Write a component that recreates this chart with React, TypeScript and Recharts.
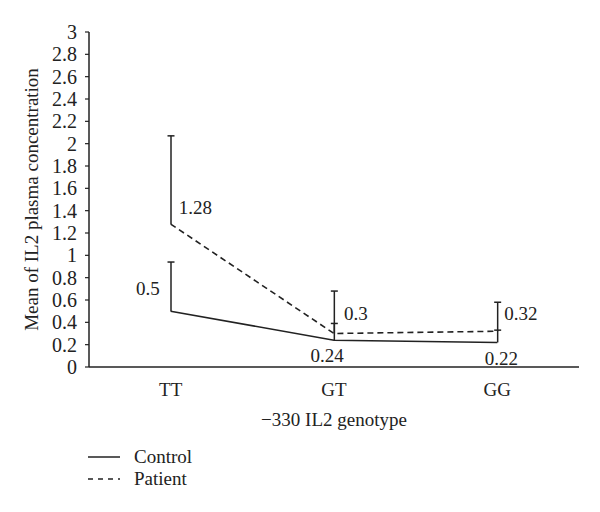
import { ComposedChart, Line, Bar, XAxis, YAxis, LabelList, Legend } from "recharts";

const genotypes = ["TT", "GT", "GG"];
const controlMeans = [0.5, 0.24, 0.22];
const controlUpper = [0.94, 0.39, 0.33];
const patientMeans = [1.28, 0.3, 0.32];
const patientUpper = [2.07, 0.68, 0.58];
const yTicks = [0, 0.2, 0.4, 0.6, 0.8, 1, 1.2, 1.4, 1.6, 1.8, 2, 2.2, 2.4, 2.6, 2.8, 3];
const edgeTicks = [1, 2, 3];

const data = genotypes.map((g, i) => ({
  genotype: g,
  Control: controlMeans[i],
  Patient: patientMeans[i],
  controlErr: [controlMeans[i], controlUpper[i]],
  patientErr: [patientMeans[i], patientUpper[i]],
}));

const INK = "#222";
const FONT = "'Liberation Serif', 'DejaVu Serif', serif";
const DASH = "6 4";

// label placement relative to each point
const controlLabelPos = [
  { dx: -11, dy: -23, anchor: "end" },
  { dx: -7, dy: 15, anchor: "middle" },
  { dx: 4, dy: 16, anchor: "middle" },
];
const patientLabelPos = [
  { dx: 8, dy: -17, anchor: "start" },
  { dx: 10, dy: -20, anchor: "start" },
  { dx: 7, dy: -18, anchor: "start" },
];

function pointLabel(pos: typeof controlLabelPos) {
  return (props: any) => {
    const { x, y, value, index } = props;
    const p = pos[index];
    if (!p) return null;
    return (
      <text
        x={x + p.dx}
        y={y + p.dy}
        textAnchor={p.anchor as any}
        dominantBaseline="central"
        fontSize={19}
        fontFamily={FONT}
        fill={INK}
      >
        {value}
      </text>
    );
  };
}

function ErrorStem(props: any) {
  const { x, y, width, height } = props;
  if (x == null || y == null) return null;
  const cx = x + width / 2;
  return (
    <g>
      <line x1={cx} x2={cx} y1={y} y2={y + height} stroke={INK} strokeWidth={1.5} />
      <line x1={cx - 3.5} x2={cx + 3.5} y1={y} y2={y} stroke={INK} strokeWidth={1.5} />
    </g>
  );
}

function LegendBox(props: any) {
  const items = (props.payload || []).filter((e: any) => e.value === "Control" || e.value === "Patient");
  return (
    <div style={{ fontFamily: FONT, fontSize: 19, color: INK }}>
      {items.map((e: any) => (
        <div key={e.value} style={{ display: "flex", alignItems: "center", height: 22 }}>
          <svg width={48} height={10}>
            <line
              x1={2}
              x2={34}
              y1={5}
              y2={5}
              stroke={INK}
              strokeWidth={1.5}
              strokeDasharray={e.value === "Patient" ? "5 5" : undefined}
            />
          </svg>
          <span>{e.value}</span>
        </div>
      ))}
    </div>
  );
}

export default function App() {
  return (
    <div style={{ position: "absolute", left: 0, top: 0, width: 600, height: 512, background: "#fff" }}>
      <ComposedChart
        width={600}
        height={512}
        data={data}
        margin={{ top: 32, right: 21, bottom: 74, left: 0 }}
        style={{ fontFamily: FONT }}
      >
        <XAxis
          xAxisId={0}
          type="number"
          domain={[0, 3]}
          ticks={edgeTicks}
          height={1}
          tick={false}
          tickSize={5}
          axisLine={{ stroke: INK, strokeWidth: 1.5 }}
          tickLine={{ stroke: INK, strokeWidth: 1.2 }}
        />
        <XAxis
          xAxisId="a"
          dataKey="genotype"
          height={70}
          axisLine={false}
          tickLine={false}
          tickSize={0}
          tickMargin={15}
          tick={{ fill: INK, fontSize: 19, fontFamily: FONT }}
          label={{
            value: "\u2212330 IL2 genotype",
            position: "insideBottom",
            offset: 12,
            fill: INK,
            fontSize: 19,
            fontFamily: FONT,
          }}
        />
        <XAxis xAxisId="b" dataKey="genotype" hide />
        <YAxis
          width={89}
          domain={[0, 3]}
          ticks={yTicks}
          interval={0}
          tickSize={4}
          tickMargin={8}
          axisLine={{ stroke: INK, strokeWidth: 1.5 }}
          tickLine={{ stroke: INK, strokeWidth: 1.2 }}
          tick={{ fill: INK, fontSize: 20, fontFamily: FONT }}
          label={{
            value: "Mean of IL2 plasma concentration",
            angle: -90,
            position: "insideLeft",
            offset: 31,
            fill: INK,
            fontSize: 19,
            fontFamily: FONT,
            textAnchor: "middle",
            style: { textAnchor: "middle" },
          }}
        />
        <Bar
          xAxisId="a"
          dataKey="controlErr"
          barSize={8}
          shape={ErrorStem}
          legendType="none"
          isAnimationActive={false}
        />
        <Bar
          xAxisId="b"
          dataKey="patientErr"
          barSize={8}
          shape={ErrorStem}
          legendType="none"
          isAnimationActive={false}
        />
        <Line
          xAxisId="a"
          dataKey="Control"
          type="linear"
          stroke={INK}
          strokeWidth={1.6}
          dot={false}
          activeDot={false}
          isAnimationActive={false}
        >
          <LabelList dataKey="Control" content={pointLabel(controlLabelPos)} />
        </Line>
        <Line
          xAxisId="a"
          dataKey="Patient"
          type="linear"
          stroke={INK}
          strokeWidth={1.6}
          strokeDasharray={DASH}
          dot={false}
          activeDot={false}
          isAnimationActive={false}
        >
          <LabelList dataKey="Patient" content={pointLabel(patientLabelPos)} />
        </Line>
        <Legend
          layout="horizontal"
          verticalAlign="middle"
          align="center"
          content={LegendBox}
          wrapperStyle={{ left: 86, top: 446, width: 200, height: 44 }}
        />
      </ComposedChart>
    </div>
  );
}
